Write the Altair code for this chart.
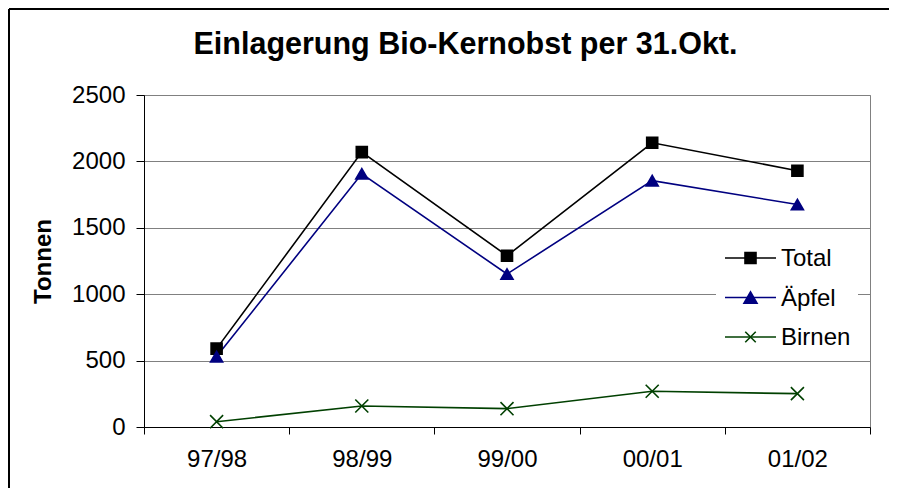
import altair as alt
import pandas as pd

seasons = ["97/98", "98/99", "99/00", "00/01", "01/02"]
total = [590, 2070, 1290, 2140, 1930]
aepfel = [530, 1907, 1152, 1855, 1675]
birnen = [40, 158, 138, 269, 251]
series = ["Total", "Äpfel", "Birnen"]
colors = ["#000000", "#000080", "#004000"]
shapes = ["square", "triangle-up", "M-1,-1L1,1M-1,1L1,-1"]
sizes = [121, 170, 110]
y_ticks = [0, 500, 1000, 1500, 2000, 2500]
title_text = "Einlagerung Bio-Kernobst per 31.Okt."

FONT = "Liberation Sans"
W, H = 726, 332

rows = []
for s, vals in zip(series, [total, aepfel, birnen]):
    for season, v in zip(seasons, vals):
        rows.append({"season": season, "series": s, "value": v})
df = pd.DataFrame(rows)

x_enc = alt.X(
    "season:N", sort=seasons, bandPosition=0.5,
    scale=alt.Scale(type="band", paddingInner=0, paddingOuter=0),
    axis=alt.Axis(title=None, labelAngle=0, tickBand="extent", labelFont=FONT,
                  labelFontSize=24, labelColor="#000000", domainColor="#000000",
                  tickColor="#000000", tickSize=7, labelPadding=13, grid=False),
)
y_enc = alt.Y(
    "value:Q", scale=alt.Scale(domain=[0, 2500], nice=False),
    axis=alt.Axis(values=y_ticks, format="d", title="Tonnen", titleFont=FONT,
                  titleFontSize=24, titleFontWeight="bold", titleColor="#000000",
                  titlePadding=16, labelFont=FONT, labelFontSize=24,
                  labelColor="#000000", domainColor="#000000", tickColor="#000000",
                  tickSize=8, labelPadding=11, grid=True, gridColor="#808080",
                  gridWidth=1),
)
color_scale = alt.Scale(domain=series, range=colors)

base = alt.Chart(df)
lines = base.mark_line(strokeWidth=1.6).encode(
    x=x_enc, y=y_enc,
    color=alt.Color("series:N", scale=color_scale, legend=None),
)
points = base.mark_point(filled=True, strokeWidth=1.6, opacity=1).encode(
    x=x_enc, y=y_enc,
    fill=alt.Fill("series:N", scale=color_scale, legend=None),
    stroke=alt.Stroke("series:N", scale=color_scale, legend=None),
    shape=alt.Shape("series:N", scale=alt.Scale(domain=series, range=shapes), legend=None),
    size=alt.Size("series:N", scale=alt.Scale(domain=series, range=sizes), legend=None),
)

layers = [lines, points]

one = pd.DataFrame({"title": [title_text]})

# chart title
layers.append(alt.Chart(one).mark_text(
    align="center", baseline="alphabetic", font=FONT, fontSize=30.5,
    fontWeight="bold", color="#000000").encode(
    x=alt.value(321.5), y=alt.value(-41), text="title:N"))

# legend (manual, Excel style)
layers.append(
    alt.Chart(one).mark_rect(fill="white", stroke=None).encode(
        x=alt.value(572), x2=alt.value(714), y=alt.value(141), y2=alt.value(257))
)
for i, (s, c, sh, sz) in enumerate(zip(series, colors, shapes, sizes)):
    ly = 163 + i * 39.5
    ld = pd.DataFrame({"series": [s]})
    layers.append(alt.Chart(ld).mark_rule(color=c, strokeWidth=1.6).encode(
        x=alt.value(581), x2=alt.value(632), y=alt.value(ly)))
    layers.append(alt.Chart(ld).mark_point(filled=True, fill=c, stroke=c, strokeWidth=1.6,
                                           shape=sh, size=sz, opacity=1).encode(
        x=alt.value(606.5), y=alt.value(ly)))
    layers.append(alt.Chart(ld).mark_text(align="left", baseline="middle", font=FONT,
                                          fontSize=24, color="#000000").encode(
        x=alt.value(637), y=alt.value(ly + 1), text="series:N"))

# outer chart border (Excel chart area)
layers.append(alt.Chart(one).mark_rule(color="#000000", strokeWidth=2).encode(
    x=alt.value(-135), x2=alt.value(745), y=alt.value(-86)))
layers.append(alt.Chart(one).mark_rule(color="#000000", strokeWidth=2).encode(
    x=alt.value(-135), y=alt.value(-86), y2=alt.value(420)))

chart = alt.layer(*layers).properties(
    width=W, height=H,
    autosize=alt.AutoSizeParams(type="none"),
    padding={"left": 136, "top": 87, "right": 20, "bottom": 61},
    background="white",
).configure_view(stroke="#808080", strokeWidth=1)

chart.save("out.html", embed_options={"renderer": "svg", "actions": False})
